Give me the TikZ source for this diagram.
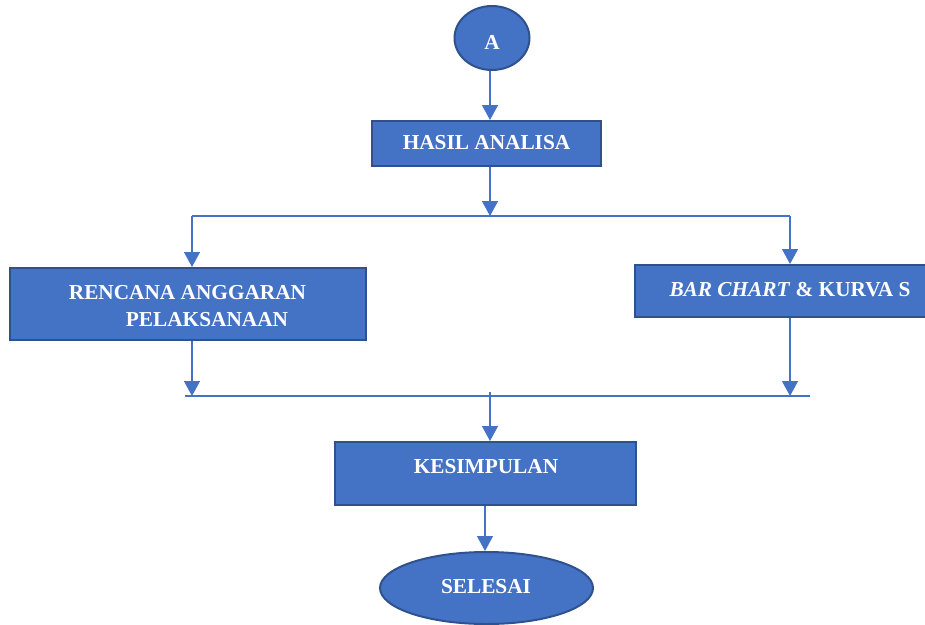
\documentclass[tikz,border=0pt]{standalone}
\usepackage{fontspec}
\setmainfont{Liberation Serif}
\usetikzlibrary{arrows.meta,shapes.geometric}
\definecolor{fillblue}{HTML}{4472C4}
\definecolor{edgeblue}{HTML}{2F528F}
\begin{document}
\begin{tikzpicture}[x=1pt,y=-1pt,
  box/.style={draw=edgeblue,line width=2pt,fill=fillblue,rectangle,inner sep=0pt},
  oval/.style={draw=edgeblue,line width=2pt,fill=fillblue,ellipse,inner sep=0pt},
  lbl/.style={text=white,font=\fontsize{21.3}{25}\selectfont\bfseries,inner sep=0pt},
  conn/.style={draw=fillblue,line width=1.3pt},
  arr/.style={conn,-{Triangle[width=16pt,length=15pt]}}]
\useasboundingbox (0,0) rectangle (925,624);
% shapes
\node[oval,minimum width=75pt,minimum height=64pt] (a) at (492,38) {};
\node[lbl] (ta) at (492,42) {A};
\node[box,minimum width=229pt,minimum height=45pt] (hasil) at (486.5,143.5) {};
\node[lbl] (th) at (486.5,143) {HASIL ANALISA};
\node[box,minimum width=356pt,minimum height=72pt] (rencana) at (188,304) {};
\node[lbl] (tr1) at (187.5,293) {RENCANA ANGGARAN};
\node[lbl] (tr2) at (207,320) {PELAKSANAAN};
\node[box,minimum width=294pt,minimum height=52pt] (bar) at (782,291) {};
\node[lbl] (tb) at (790,290) {\textit{BAR CHART} \& KURVA S};
\node[box,minimum width=301pt,minimum height=63pt] (kesim) at (485.5,473.5) {};
\node[lbl] (tk) at (486,467) {KESIMPULAN};
\node[oval,minimum width=213pt,minimum height=72pt] (sel) at (486.5,588) {};
\node[lbl] (ts) at (486,587) {SELESAI};
% junction points
\coordinate (s) at (490,216);
\coordinate (sl) at (192,216);
\coordinate (sr) at (790,216);
\coordinate (ml) at (185,396);
\coordinate (mr) at (810,396);
\coordinate (m1) at (192,396);
\coordinate (m2) at (790,396);
\coordinate (mc) at (490,392);
\coordinate (kx) at (485,0);
% connectors
\draw[arr] (a.south -| s) -- (s |- hasil.north);
\draw[arr] (hasil.south -| s) -- (s);
\draw[conn] (sl) -- (sr);
\draw[arr] (sl) -- (sl |- rencana.north);
\draw[arr] (sr) -- (sr |- bar.north);
\draw[arr] (rencana.south -| m1) -- (m1);
\draw[arr] (bar.south -| m2) -- (m2);
\draw[conn] (ml) -- (mr);
\draw[arr] (mc) -- (mc |- kesim.north);
\draw[arr] (kesim.south -| kx) -- (kx |- sel.north);
\end{tikzpicture}
\end{document}
